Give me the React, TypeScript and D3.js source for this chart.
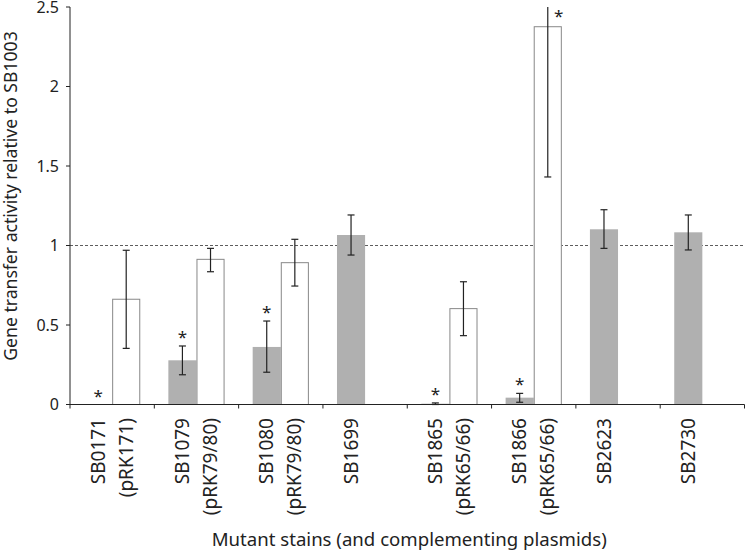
import React from "react";
import * as d3 from "d3";

const groups = ["SB0171", "SB1079", "SB1080", "SB1699", "SB1865", "SB1866", "SB2623", "SB2730"];
const complementLabels = ["(pRK171)", "(pRK79/80)", "(pRK79/80)", null, "(pRK65/66)", "(pRK65/66)", null, null];
const mutantValues = [0, 0.278, 0.362, 1.066, 0.005, 0.043, 1.102, 1.083];
const mutantErrLow = [null, 0.187, 0.203, 0.94, 0.0, 0.014, 0.982, 0.972];
const mutantErrHigh = [null, 0.368, 0.525, 1.192, 0.01, 0.07, 1.225, 1.192];
const mutantSignificant = [true, true, true, false, true, true, false, false];
const complementValues = [0.662, 0.913, 0.892, null, 0.603, 2.376, null, null];
const complementErrLow = [0.353, 0.835, 0.745, null, 0.433, 1.431, null, null];
const complementErrHigh = [0.97, 0.982, 1.039, null, 0.772, 3.32, null, null];
const complementSignificant = [false, false, false, false, false, true, false, false];
const yTicks = [0, 0.5, 1, 1.5, 2, 2.5];
const referenceLine = 1;
const yTitle = "Gene transfer activity relative to SB1003";
const xTitle = "Mutant stains (and complementing plasmids)";

const W = 746;
const H = 551;
const left = 70;
const right = 744.5;
const top = 7;
const bottom = 404.5;
const FONT = "'Noto Sans', sans-serif";

export default function App() {
  const y = d3.scaleLinear().domain([0, 2.5]).range([bottom, top]);
  const x0 = d3.scaleBand<string>().domain(groups).range([left, right]).paddingInner(1 / 3).paddingOuter(1 / 6);
  const x1 = d3.scaleBand<string>().domain(["m", "c"]).range([0, x0.bandwidth()]);
  const step = x0.step();
  const bw = x1.bandwidth();
  const clip = (v: number) => Math.min(v, 2.5);

  const boundaries = d3.range(groups.length + 1).map((i) => left + i * step);

  const errBar = (cx: number, lo: number, hi: number, key: string) => {
    const yHi = y(clip(hi));
    const yLo = y(lo);
    return (
      <g key={key} stroke="#222" strokeWidth={1.2}>
        <line x1={cx} x2={cx} y1={yLo} y2={yHi} />
        <line x1={cx - 3.5} x2={cx + 3.5} y1={yLo} y2={yLo} />
        {hi <= 2.5 && <line x1={cx - 3.5} x2={cx + 3.5} y1={yHi} y2={yHi} />}
      </g>
    );
  };

  return (
    <div style={{ position: "absolute", left: 0, top: 0 }}>
      <svg width={W} height={H} style={{ display: "block", background: "#fff" }} fontFamily={FONT}>
        <line x1={left} x2={right} y1={y(referenceLine)} y2={y(referenceLine)} stroke="#333" strokeWidth={0.8} strokeDasharray="3,2" />
        {groups.map((g, i) => {
          const gx = x0(g)!;
          const mx = gx + x1("m")!;
          const cx = gx + x1("c")!;
          const els: any[] = [];
          const mv = mutantValues[i];
          if (mv > 0) {
            els.push(<rect key={"m" + i} x={mx} width={bw} y={y(mv)} height={bottom - y(mv)} fill="#b0b0b0" />);
          }
          const mLo = mutantErrLow[i];
          const mHi = mutantErrHigh[i];
          if (mLo !== null && mHi !== null) els.push(errBar(mx + bw / 2, mLo, mHi, "me" + i));
          if (mutantSignificant[i]) {
            const topV = mHi !== null ? mHi : mv;
            els.push(
              <text key={"ms" + i} x={mx + bw / 2} y={y(topV) - 3} textAnchor="middle" fontSize={17} fill="#222">*</text>
            );
          }
          const cv = complementValues[i];
          if (cv !== null) {
            els.push(
              <rect key={"c" + i} x={cx + 0.5} width={bw - 1} y={y(cv)} height={bottom - y(cv)} fill="#fff" stroke="#888" strokeWidth={1} />
            );
            const lo = complementErrLow[i]!;
            const hi = complementErrHigh[i]!;
            els.push(errBar(cx + bw / 2, lo, hi, "ce" + i));
            if (complementSignificant[i]) {
              const over = hi > 2.5;
              els.push(
                <text key={"cs" + i} x={over ? cx + bw / 2 + 11 : cx + bw / 2} y={over ? y(2.5) + 15 : y(hi) - 3} textAnchor="middle" fontSize={17} fill="#222">*</text>
              );
            }
          }
          return <g key={g}>{els}</g>;
        })}
        <line x1={left} x2={left} y1={top} y2={bottom} stroke="#222" strokeWidth={1} />
        <line x1={left} x2={right} y1={bottom} y2={bottom} stroke="#222" strokeWidth={1} />
        {yTicks.map((t) => (
          <g key={t}>
            <line x1={left - 4} x2={left} y1={y(t)} y2={y(t)} stroke="#222" />
            <text x={left - 11} y={y(t)} dy="0.35em" textAnchor="end" fontSize={16} fill="#222">{t}</text>
          </g>
        ))}
        {boundaries.map((b, i) => (
          <line key={i} x1={b} x2={b} y1={bottom} y2={bottom + 4} stroke="#222" />
        ))}
        {groups.map((g, i) => {
          const gx = x0(g)!;
          const mx = gx + x1("m")! + bw / 2;
          const cx = gx + x1("c")! + bw / 2;
          const lab = complementLabels[i];
          return (
            <g key={"l" + g}>
              <text transform={`translate(${mx},418) rotate(-90)`} dy="0.35em" textAnchor="end" fontSize={19} fill="#222">{g}</text>
              {lab && (
                <text transform={`translate(${cx},418) rotate(-90)`} dy="0.35em" textAnchor="end" fontSize={19} fill="#222">{lab}</text>
              )}
            </g>
          );
        })}
        <text x={(left + right) / 2 + 2} y={546} textAnchor="middle" fontSize={18.6} fill="#222">{xTitle}</text>
        <text transform={`translate(17,196) rotate(-90)`} textAnchor="middle" fontSize={17.6} fill="#222">{yTitle}</text>
      </svg>
    </div>
  );
}
